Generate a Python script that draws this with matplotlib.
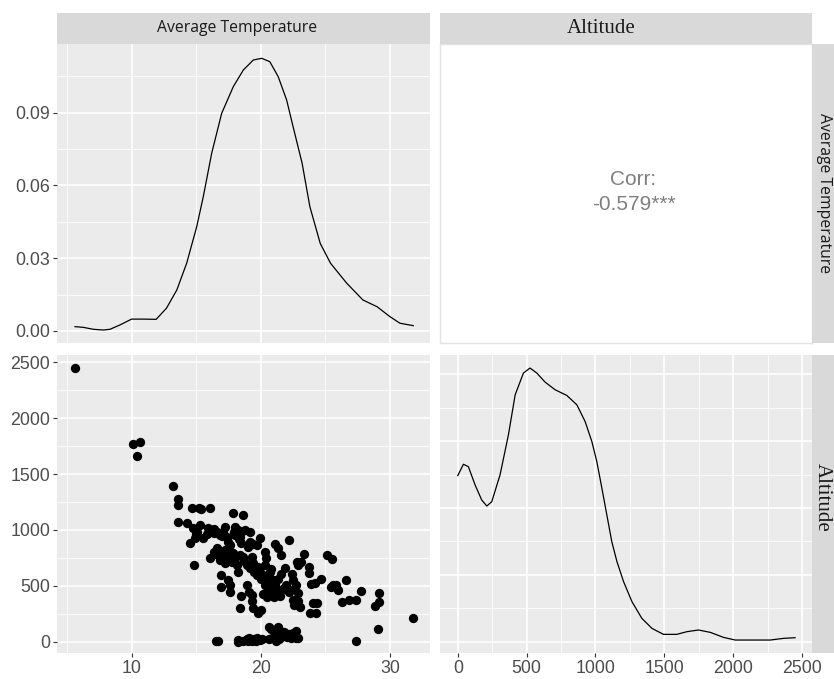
import numpy as np
import matplotlib
matplotlib.use("Agg")
import matplotlib.pyplot as plt
from matplotlib.ticker import MultipleLocator

# Scatter data (Average Temperature vs Altitude)
temperature = [
    5.6, 10.1, 10.65, 10.4, 13.2, 13.6, 13.6, 13.6, 14.25,
    14.65, 15.2, 15.4, 16.1,
    14.55, 14.85, 14.75, 15.05, 15.3, 14.9, 15.55, 15.95, 16.05, 16.35, 16.6, 16.85, 17.1, 17.25, 17.35, 17.5, 17.6,
    17.85, 18.65, 18.0, 18.25, 18.5, 18.8, 19.15, 18.4, 18.0, 18.5, 19.15, 19.4, 19.7, 19.95,
    16.05, 16.35, 16.6, 16.7, 16.85, 16.95, 17.25, 17.35, 17.5, 17.6, 17.75, 17.85, 18.0, 18.15, 18.25, 18.4, 18.65,
    16.95, 16.95, 17.5, 17.6, 17.6, 18.5, 18.4, 18.9, 19.05, 19.3, 19.3,
    18.9, 19.15, 19.4, 19.55, 19.8, 19.7, 19.95, 20.05,
    19.4, 19.8, 20.05, 20.3, 20.2, 20.45, 20.3, 20.45, 20.6, 20.7, 20.7, 20.85, 20.95, 21.1, 21.25, 21.35, 21.6, 21.5,
    20.3, 20.4, 21.1, 21.35, 21.6, 21.6, 21.85, 22.2, 21.95, 22.2, 22.5, 22.6, 22.75, 22.85, 22.5, 22.6, 22.85, 23.0,
    22.45, 22.78, 22.9, 23.1, 23.37, 23.7, 23.75, 23.9, 24.2, 24.66, 24.07, 24.33, 23.8, 24.3,
    25.1, 25.5, 25.6, 26.0, 25.4, 25.85, 26.57, 26.26, 26.8, 27.4, 27.75, 27.4, 28.84, 29.17, 29.17, 29.05, 31.8,
    17.0, 16.2, 15.8, 17.9, 19.0, 19.5, 20.8, 21.0, 20.5, 21.8, 18.7, 20.0, 17.2, 19.3, 15.0, 16.4, 18.3, 20.9,
    16.5, 16.7, 18.2, 18.25, 18.6, 18.9, 19.1, 19.3, 19.5, 19.7, 19.9, 20.1, 19.0, 19.6,
    20.6, 20.8, 21.3, 21.5, 21.1, 20.6, 20.9, 21.2, 21.6, 21.8, 22.0, 22.3, 22.5, 22.7, 22.7, 22.9, 21.4, 22.2,
]
altitude = [
    2445, 1770, 1785, 1660, 1395, 1275, 1225, 1075, 1065,
    1200, 1200, 1185, 1200,
    885, 690, 1015, 985, 1045, 925, 925, 1015, 985, 970, 985, 955, 985, 1030, 940, 895, 865,
    1150, 1135, 1030, 1000, 985, 1000, 985, 940, 955, 880, 895, 875, 865, 930,
    745, 805, 835, 775, 730, 805, 820, 775, 745, 805, 715, 790, 745, 685, 625, 775, 760,
    595, 490, 550, 505, 445, 405, 300, 505, 445, 420, 365,
    685, 655, 700, 650, 670, 595, 625, 580,
    300, 255, 285, 505, 425, 445, 685, 595, 565, 625, 520, 475, 550, 505, 445, 565, 460, 405,
    805, 752, 871, 835, 776, 610, 655, 910, 505, 445, 550, 475, 505, 435, 375, 330, 360, 315,
    610, 716, 686, 715, 782, 671, 612, 516, 522, 558, 343, 343, 254, 254,
    776, 740, 507, 462, 490, 505, 552, 358, 373, 373, 453, 9, 322, 439, 358, 111, 209,
    950, 1000, 960, 980, 850, 620, 650, 400, 400, 480, 720, 560, 700, 760, 960, 1010, 920, 470,
    10, 10, 15, 0, 5, 20, 30, 10, 25, 30, 15, 20, 5, 5,
    130, 115, 135, 100, 60, 25, 30, 10, 45, 90, 40, 30, 80, 100, 35, 30, 20, 70,
]

# Density curves
temp_grid = [5.62, 6.26, 7.04, 7.8, 8.33, 9.1, 10.0, 10.9, 11.9, 12.7, 13.5, 14.26, 15.04, 15.55,
             16.2, 16.97, 17.87, 18.65, 19.42, 20.07, 20.7, 21.35, 22.0, 22.5, 23.2, 23.8, 24.6,
             25.4, 26.65, 27.9, 29.0, 30.0, 30.77, 31.8]
temp_density = [0.0018, 0.0015, 0.0007, 0.0004, 0.0007, 0.0025, 0.0049, 0.0049, 0.0048, 0.0094,
                0.0169, 0.0279, 0.043, 0.0554, 0.0733, 0.0897, 0.1007, 0.1076, 0.1117, 0.1124,
                0.111, 0.1048, 0.0952, 0.0842, 0.0691, 0.0512, 0.0361, 0.0279, 0.0197, 0.0128,
                0.0100, 0.0059, 0.0032, 0.0022]

alt_grid = [0, 41, 77, 126, 174, 211, 247, 307, 368, 417, 477, 525, 574, 634, 707, 792, 865, 925,
            974, 1010, 1047, 1083, 1119, 1156, 1204, 1265, 1337, 1410, 1494, 1591, 1664, 1749,
            1834, 1930, 2015, 2270, 2366, 2450]
alt_density = [0.000497, 0.000531, 0.000524, 0.000469, 0.000424, 0.000406, 0.000419, 0.000499,
               0.000619, 0.000739, 0.000804, 0.000819, 0.000804, 0.000777, 0.000754, 0.000737,
               0.000709, 0.000659, 0.000599, 0.000539, 0.000459, 0.000379, 0.000299, 0.00024,
               0.00018, 0.00012, 0.00007, 0.00004, 0.000022, 0.000022, 0.00003, 0.000035,
               0.000028, 0.000013, 0.000005, 0.000005, 0.00001, 0.000012]

corr_label = "Corr:\n-0.579***"
var_names = ["Average Temperature", "Altitude"]

W, H = 834, 679
PANEL_BG = "#EBEBEB"
STRIP_BG = "#D9D9D9"
TICK_COLOR = "#4D4D4D"


def box(x0, y0, x1, y1):
    # pixel box (top-left origin) -> figure fraction
    return [x0 / W, 1 - y1 / H, (x1 - x0) / W, (y1 - y0) / H]


def gg_panel(ax, xmaj, xmin, ymaj, ymin):
    ax.set_facecolor(PANEL_BG)
    for s in ax.spines.values():
        s.set_visible(False)
    ax.xaxis.set_major_locator(MultipleLocator(xmaj))
    ax.xaxis.set_minor_locator(MultipleLocator(xmin))
    ax.yaxis.set_major_locator(MultipleLocator(ymaj))
    ax.yaxis.set_minor_locator(MultipleLocator(ymin))
    ax.grid(which="major", color="white", lw=1.2)
    ax.grid(which="minor", color="white", lw=0.6)
    ax.set_axisbelow(True)
    ax.tick_params(which="minor", length=0)
    ax.tick_params(which="major", length=3, width=0.8, color="#333333",
                   labelsize=12.8, labelcolor=TICK_COLOR, pad=2)
    for lab in ax.get_xticklabels() + ax.get_yticklabels():
        lab.set_fontfamily("Liberation Sans")


def strip(rect, text, family, size, rotation=0, tx=0.5, ty=0.5):
    ax = fig.add_axes(rect)
    ax.set_facecolor(STRIP_BG)
    ax.set_xticks([])
    ax.set_yticks([])
    for s in ax.spines.values():
        s.set_visible(False)
    ax.text(tx, ty, text, ha="center", va="center", rotation=rotation,
            family=family, fontsize=size, color="#1A1A1A", transform=ax.transAxes)
    return ax


fig = plt.figure(figsize=(W / 100, H / 100), dpi=100)
fig.patch.set_facecolor("white")

temp_lim = (4.226, 33.096)
alt_lim_y = (-101, 2565)
alt_lim_x = (-129, 2573)

# top-left: density of temperature
ax1 = fig.add_axes(box(57, 44, 430, 343))
ax1.plot(temp_grid, temp_density, color="black", lw=0.9)
ax1.set_xlim(*temp_lim)
ax1.set_ylim(-0.00495, 0.1183)
gg_panel(ax1, 10, 5, 0.03, 0.015)
ax1.set_yticks([0, 0.03, 0.06, 0.09])
ax1.set_yticklabels(["0.00", "0.03", "0.06", "0.09"], family="Liberation Sans")
ax1.tick_params(axis="x", which="both", length=0, labelbottom=False)

# top-right: correlation
ax2 = fig.add_axes(box(440, 44, 812, 343))
ax2.set_facecolor("white")
ax2.set_xticks([])
ax2.set_yticks([])
for s in ax2.spines.values():
    s.set_color("#E3E3E3")
    s.set_linewidth(1.0)
ax2.text(0.52, 0.505, corr_label, ha="center", va="center", transform=ax2.transAxes,
         fontsize=15, color="#7F7F7F", family="Liberation Sans", linespacing=1.4)

# bottom-left: scatter
ax3 = fig.add_axes(box(57, 355, 430, 653))
ax3.scatter(temperature, altitude, s=45, color="black", linewidths=0, zorder=3)
ax3.set_xlim(*temp_lim)
ax3.set_ylim(*alt_lim_y)
gg_panel(ax3, 10, 5, 500, 250)

# bottom-right: density of altitude
ax4 = fig.add_axes(box(440, 355, 812, 653))
ax4.plot(alt_grid, alt_density, color="black", lw=0.9)
ax4.set_xlim(*alt_lim_x)
ax4.set_ylim(-0.0000338, 0.000858)
gg_panel(ax4, 500, 250, 0.0002, 0.0001)
ax4.tick_params(axis="y", which="both", length=0, labelleft=False)

# facet strips (right-hand strips run past the canvas edge, as in the original)
strip(box(57, 13, 430, 44), var_names[0], "Open Sans", 11.3, tx=0.482)
strip(box(440, 13, 812, 44), var_names[1], "Liberation Serif", 15, tx=0.432)
strip(box(812, 44, 841, 343), var_names[0], "Open Sans", 11.3, rotation=-90, tx=0.43)
strip(box(812, 355, 841, 653), var_names[1], "Liberation Serif", 15, rotation=-90, tx=0.37, ty=0.522)

fig.savefig("out.png", dpi=100)
